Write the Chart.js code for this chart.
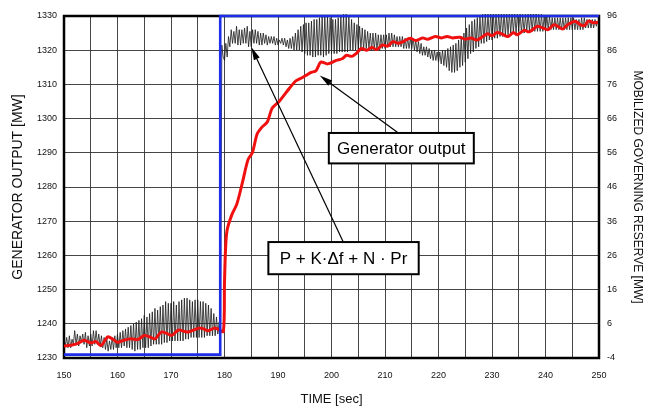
<!DOCTYPE html>
<html><head><meta charset="utf-8">
<script src="https://cdn.jsdelivr.net/npm/chart.js@4.4.1/dist/chart.umd.min.js"></script>
<style>html,body{margin:0;padding:0;background:#fff;}canvas{display:block;}</style>
</head><body>
<canvas id="c" width="653" height="407"></canvas>
<script>
// ---- data ----
const timeRange = [150, 250];
const outputRange = [1230, 1330];
const reserveRange = [-4, 96];

// P + K·Δf + N·Pr (black), sampled every 0.25 s from 150 s (one row = one second)
const blackStart = 150;
const blackStep = 0.25;
const blackValues = [
  1235.5,1233.5,1236,1233,
  1236.5,1233,1235.5,1234,
  1238,1234,1237,1233.5,
  1236.5,1234.5,1237,1234,
  1237.5,1233,1236.5,1233.5,
  1237,1233.5,1238,1234,
  1238,1234,1237,1233.5,
  1236.5,1233,1236,1232.5,
  1235.5,1232,1235,1232.5,
  1236,1232.5,1236.5,1233,
  1237,1233,1237.5,1233,
  1238,1233.5,1238.5,1233,
  1239,1233,1239.5,1232.5,
  1240,1232,1240.5,1232.5,
  1241,1232.5,1241.5,1233,
  1242.5,1233,1242,1233,
  1243,1233.5,1243.5,1234,
  1244.5,1234,1244,1234,
  1245,1234,1245.5,1234.5,
  1246.5,1234.5,1246,1235,
  1246,1235,1246.5,1235,
  1245.5,1235,1246.5,1235,
  1247,1235,1247.5,1235.5,
  1247.5,1235.5,1247,1236,
  1246.5,1236,1247,1236,
  1247,1236,1246.5,1236,
  1246.5,1236,1246,1236.5,
  1245.5,1236.5,1244.5,1236.5,
  1243,1236.5,1242,1237,
  1240.5,1237,1321.5,1318,
  1317,1322,1318,1324,
  1321,1326,1322,1325.5,
  1322,1327,1321.5,1326,
  1321.5,1326,1322,1326.5,
  1322,1327,1321,1325.5,
  1321,1326,1322,1326,
  1322,1325.5,1321.5,1325,
  1321.5,1325,1322,1324.5,
  1321.5,1324,1322,1324,
  1322,1324,1321.5,1323.5,
  1321.5,1323,1322,1323.5,
  1321.5,1323.5,1321,1323,
  1320.5,1323.5,1320.5,1324,
  1320,1325,1320,1326,
  1320,1327,1319.5,1327.5,
  1319,1328,1318.5,1328,
  1318.5,1328.5,1318,1329,
  1318,1329,1318.5,1329.5,
  1318.5,1330,1318,1330,
  1318.5,1330,1319,1329.5,
  1319,1329,1319,1329,
  1319,1329.5,1319.5,1330,
  1319.5,1330.5,1319.5,1330.5,
  1319.5,1330,1320,1329,
  1320,1328,1320,1327.5,
  1320,1327,1320.5,1326.5,
  1320,1326,1320.5,1325.5,
  1320.5,1325,1320,1325,
  1320,1325,1320,1324.5,
  1320,1324.5,1320.5,1324.5,
  1320.5,1324.5,1321,1325,
  1321,1325,1321,1324.5,
  1321,1324,1321,1324,
  1321,1324,1320.5,1323.5,
  1320.5,1323.5,1320.5,1323.5,
  1320.5,1323.5,1320,1323,
  1319.5,1322.5,1319,1322,
  1318.5,1321,1318.5,1321,
  1318,1320.5,1317.5,1320,
  1317,1320,1317,1319.5,
  1316.5,1319.5,1316,1320,
  1315.5,1320,1315,1320.5,
  1314,1321,1313.5,1321.5,
  1313.5,1322,1314,1323,
  1315,1324,1315.5,1325,
  1316.5,1326.5,1317.5,1327.5,
  1319,1328.5,1319.5,1329,
  1320.5,1329.5,1321,1330,
  1322,1330.5,1322,1331,
  1322.5,1331,1323,1331,
  1323,1331,1323.5,1331,
  1323.5,1331,1324,1331,
  1324,1331,1324,1331,
  1324.5,1331,1325,1331,
  1325,1331,1325,1331,
  1325.5,1331,1325,1330.5,
  1325,1330.5,1325.5,1331,
  1325.5,1331,1325.5,1331,
  1325.5,1331,1325.5,1330.5,
  1325.5,1330.5,1325.5,1330,
  1325.5,1330,1326,1330,
  1326,1329.5,1326,1329.5,
  1326,1329.5,1326,1329.5,
  1326,1329.5,1326,1329.5,
  1326,1329.5,1326,1329.5,
  1326,1329.5,1326,1329,
  1326,1329,1326,1329.5,
  1326,1329.5,1326.5,1329,
  1326.5,1329,1326.5,1329,
  1326.5,1329,1327,1328.5,
  1327
];

// Generator output (red)
const redTimes = [150,151.5,152.5,153.8,155,156,156.9,158.2,159.2,160,161.2,162.5,163.8,165,166,167,168.2,169.2,170.1,171.4,172.4,173.2,174.3,175.4,176.2,177,178.2,179,179.8,180,180.2,180.5,181.4,182.3,183.3,184.4,185.2,186.1,187,188,188.9,190.2,191.7,193.3,194.3,195.2,196.2,197.1,198,199.3,200.9,202,202.8,203.8,204.6,205.6,206.6,207.5,208.5,209.5,210.5,211.5,212.5,213.5,214.7,215.8,217,218,219.4,220.6,221.6,222.6,224,225,226,227.2,228.3,229.2,230,231,232,233,234,234.7,236,237,238.5,239.5,240.5,241.5,242.3,243.2,244.2,245.5,246.5,247.3,248,249,249.8];
const redValues = [1233.5,1233.8,1234.2,1235.2,1234.4,1234.8,1233.6,1236.2,1235.4,1234.6,1235.2,1235.6,1235.4,1236.6,1236.2,1235.6,1237.6,1237.2,1236.6,1238.2,1237.8,1237.6,1238.2,1238.8,1238.4,1238,1238.8,1238.2,1237.8,1252,1262,1267.5,1272,1275,1281,1288,1290,1295.5,1297.5,1299,1303,1305,1308,1311,1311.8,1312.6,1313.5,1314,1316.5,1316,1317,1317.5,1318.5,1318.2,1319,1320.5,1320,1320.8,1320.2,1321.5,1321.2,1322.5,1322,1322.6,1323.5,1322.8,1323.6,1323.2,1324,1323.6,1324,1323.6,1323.8,1323.2,1323.6,1323,1324,1324.8,1324.2,1325.2,1324.6,1324,1325.2,1324.5,1325.8,1325.4,1327,1326.5,1326,1327.4,1327,1326.2,1327.5,1328.5,1327.5,1327.2,1328.5,1328,1328.2];

// Mobilized governing reserve (blue, right axis)
const reserveTimes = [150, 179.2, 179.2, 250];
const reserveValues = [-3, -3, 96, 96];

// annotation labels (data coordinates)
const labelTexts = ['Generator output', 'P + K\u00B7\u0394f + N \u00B7 Pr'];
const labelBoxT = [[199.5, 226.6], [188.2, 216.3]];
const labelBoxV = [[1295.8, 1286.9], [1263.9, 1254.5]];
const arrowFrom = [[212.5, 1295.8], [202.2, 1263.9]];
const arrowTo = [[197.8, 1312.6], [185.0, 1320.9]];

// ---- build ----
const blackData = blackValues.map((v, i) => ({x: blackStart + i * blackStep, y: v}));
const redData = redTimes.map((t, i) => ({x: t, y: redValues[i]}));
const reserveData = reserveTimes.map((t, i) => ({x: t, y: reserveValues[i]}));

const FONT = "'Liberation Sans', Arial, sans-serif";

const framePlugin = {
  id: 'frame',
  beforeDatasetsDraw(chart) {
    const {ctx, chartArea: a} = chart;
    ctx.save();
    ctx.strokeStyle = '#000';
    ctx.lineWidth = 2.5;
    ctx.strokeRect(a.left, a.top, a.right - a.left, a.bottom - a.top);
    ctx.restore();
  },
  afterDatasetsDraw(chart) {
    const {ctx} = chart;
    const xs = chart.scales.x, ys = chart.scales.y;
    ctx.save();
    ctx.strokeStyle = '#000';
    ctx.fillStyle = '#000';
    ctx.lineWidth = 1.2;
    for (let i = 0; i < arrowFrom.length; i++) {
      const x1 = xs.getPixelForValue(arrowFrom[i][0]), y1 = ys.getPixelForValue(arrowFrom[i][1]);
      const x2 = xs.getPixelForValue(arrowTo[i][0]), y2 = ys.getPixelForValue(arrowTo[i][1]);
      const ang = Math.atan2(y2 - y1, x2 - x1);
      const L = 13, W = 3.2;
      ctx.beginPath();
      ctx.moveTo(x1, y1);
      ctx.lineTo(x2 - Math.cos(ang) * L * 0.8, y2 - Math.sin(ang) * L * 0.8);
      ctx.stroke();
      ctx.beginPath();
      ctx.moveTo(x2, y2);
      ctx.lineTo(x2 - Math.cos(ang) * L - Math.sin(ang) * W, y2 - Math.sin(ang) * L + Math.cos(ang) * W);
      ctx.lineTo(x2 - Math.cos(ang) * L + Math.sin(ang) * W, y2 - Math.sin(ang) * L - Math.cos(ang) * W);
      ctx.closePath();
      ctx.fill();
    }
    ctx.font = '17px ' + FONT;
    ctx.textAlign = 'center';
    ctx.textBaseline = 'middle';
    for (let i = 0; i < labelTexts.length; i++) {
      const l = xs.getPixelForValue(labelBoxT[i][0]), r = xs.getPixelForValue(labelBoxT[i][1]);
      const t = ys.getPixelForValue(labelBoxV[i][0]), b = ys.getPixelForValue(labelBoxV[i][1]);
      ctx.fillStyle = '#fff';
      ctx.fillRect(l, t, r - l, b - t);
      ctx.lineWidth = 2;
      ctx.strokeStyle = '#000';
      ctx.strokeRect(l, t, r - l, b - t);
      ctx.fillStyle = '#000';
      ctx.fillText(labelTexts[i], (l + r) / 2, (t + b) / 2 + 1);
    }
    ctx.restore();
  }
};

const gridColor = 'rgba(50,50,50,0.9)';

new Chart(document.getElementById('c'), {
  type: 'line',
  data: {
    datasets: [
      {label: 'Mobilized governing reserve', data: reserveData, yAxisID: 'y2', borderColor: '#1e2ee8', borderWidth: 2.6, pointRadius: 0, tension: 0, clip: 4},
      {label: 'Generator output', data: redData, yAxisID: 'y', borderColor: '#f01010', borderWidth: 3, pointRadius: 0, tension: 0.3, clip: 4},
      {label: 'P + K·Δf + N·Pr', data: blackData, yAxisID: 'y', borderColor: '#1a1a1a', borderWidth: 0.8, pointRadius: 0, tension: 0, clip: 2}
    ]
  },
  options: {
    responsive: false,
    animation: false,
    devicePixelRatio: 1,
    layout: {padding: {top: 16, left: 0, right: 0, bottom: 0}},
    plugins: {legend: {display: false}, tooltip: {enabled: false}},
    scales: {
      x: {
        type: 'linear', min: timeRange[0], max: timeRange[1],
        afterFit: s => { s.height = 49; },
        border: {display: false},
        grid: {color: gridColor, lineWidth: 1, drawTicks: false},
        ticks: {stepSize: 5, padding: 12, maxRotation: 0, autoSkip: false, color: '#111', font: {family: FONT, size: 9},
          callback: v => (v % 10 === 0 ? String(v) : '')},
        title: {display: true, text: 'TIME [sec]', color: '#111', font: {family: FONT, size: 13}, padding: {top: 0, bottom: 0}}
      },
      y: {
        position: 'left', min: outputRange[0], max: outputRange[1],
        afterFit: s => { s.width = 64; },
        border: {display: false},
        grid: {color: gridColor, lineWidth: 1, drawTicks: false},
        ticks: {stepSize: 10, padding: 7, color: '#111', font: {family: FONT, size: 9}, callback: v => String(v)},
        title: {display: true, text: 'GENERATOR OUTPUT [MW]', color: '#111', font: {family: FONT, size: 14}, padding: {top: 10, bottom: 0}}
      },
      y2: {
        position: 'right', min: reserveRange[0], max: reserveRange[1],
        afterFit: s => { s.width = 54; },
        border: {display: false},
        grid: {display: false, drawTicks: false},
        ticks: {stepSize: 10, padding: 8, color: '#111', font: {family: FONT, size: 9}, callback: v => String(v)},
        title: {display: true, text: 'MOBILIZED GOVERNING RESERVE [MW]', color: '#111', font: {family: FONT, size: 12}, padding: {top: 8, bottom: 0}}
      }
    }
  },
  plugins: [framePlugin]
});
</script>
</body></html>
